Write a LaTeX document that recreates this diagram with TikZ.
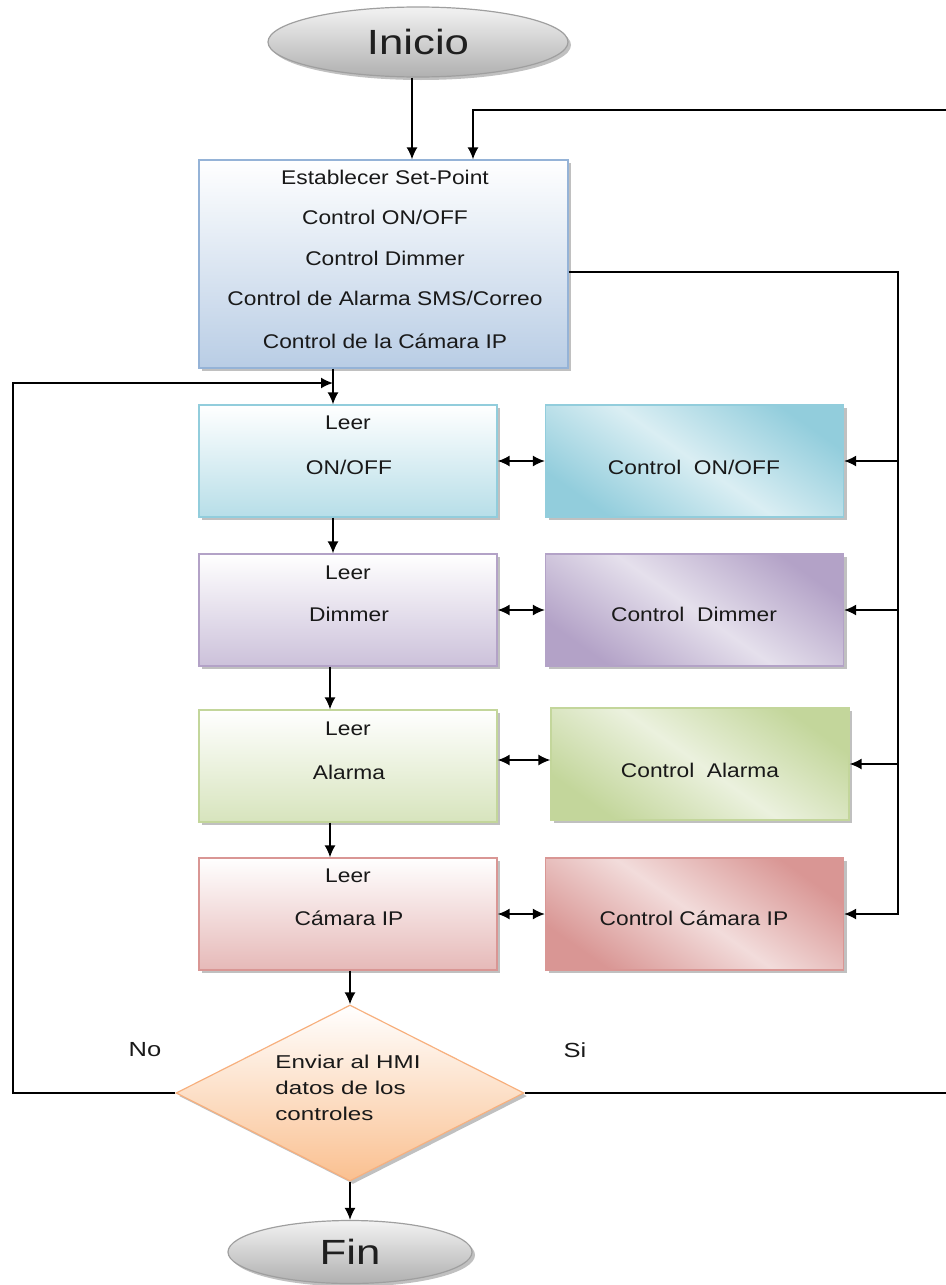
\documentclass[tikz,border=0pt]{standalone}
\usepackage{fontspec}
\setmainfont{Liberation Sans}
\newfontfamily\wa[FakeStretch=1.15]{Liberation Sans}
\newfontfamily\wb[FakeStretch=1.25]{Liberation Sans}
\newfontfamily\wc[FakeStretch=1.3]{Liberation Sans}
\usetikzlibrary{shapes.geometric,shadows,arrows.meta}
\definecolor{blueA}{HTML}{B9CDE5}\definecolor{blueB}{HTML}{95B3D7}
\definecolor{tealA}{HTML}{B7DEE8}\definecolor{tealB}{HTML}{92CDDC}\definecolor{tealL}{HTML}{DAEEF3}
\definecolor{purA}{HTML}{CCC1DA}\definecolor{purB}{HTML}{B3A2C7}\definecolor{purL}{HTML}{E5E0EC}
\definecolor{grnA}{HTML}{D7E4BD}\definecolor{grnB}{HTML}{C3D69B}\definecolor{grnL}{HTML}{EBF1DE}
\definecolor{redA}{HTML}{E6B9B8}\definecolor{redB}{HTML}{D99694}\definecolor{redL}{HTML}{F2DCDB}
\definecolor{peachA}{HTML}{FAC090}\definecolor{peachB}{HTML}{F7B07E}
\begin{document}
\begin{tikzpicture}[x=0.5pt,y=-0.5pt,
  shd/.style={drop shadow={shadow xshift=1.5pt,shadow yshift=-1.5pt,fill=black!45,opacity=0.55}},
  box/.style={shd,draw,line width=0.6pt,minimum width=149pt,minimum height=56pt,inner sep=0pt},
  leerbox/.style={box,draw=#1B,top color=white,bottom color=#1A},
  ctlbox/.style={box,draw=#1B,top color=#1B,bottom color=#1B,middle color=#1L,shading angle=-35},
  txt/.style={font=\wa\fontsize{9.9pt}{11pt}\selectfont,text=black!90,inner sep=0pt},
  bigtxt/.style={font=\wb\fontsize{17.5pt}{20pt}\selectfont,text=black!88},
  oval/.style={ellipse,shd,draw=gray!75,line width=0.6pt,top color=gray!10,bottom color=gray!62,inner sep=0pt},
  ln/.style={line width=0.9pt},
  arr/.style={ln,-{Latex[length=6pt,width=5.5pt]}},
  dbl/.style={ln,{Latex[length=6pt,width=5.5pt]}-{Latex[length=6pt,width=5.5pt]}}]
\useasboundingbox (0,0) rectangle (946,1285);

% terminals
\node[oval,minimum width=150pt,minimum height=35pt,bigtxt] (inicio) at (418,42) {Inicio};
\node[oval,minimum width=122pt,minimum height=31.5pt,bigtxt] (fin) at (350,1252) {Fin};

% set-point box
\node[box,minimum width=184.5pt,minimum height=104pt,draw=blueB,top color=white,bottom color=blueA] (setp) at (383.5,264) {};
\node[txt] (s1) at (385,177) {Establecer Set-Point};
\node[txt] (s2) at (385,217) {Control ON/OFF};
\node[txt] (s3) at (385,258) {Control Dimmer};
\node[txt] (s4) at (385,298) {Control de Alarma SMS/Correo};
\node[txt] (s5) at (385,341) {Control de la Cámara IP};

% leer boxes
\node[leerbox=teal] (leer1) at (348,461) {};
\node[leerbox=pur]  (leer2) at (348,610) {};
\node[leerbox=grn]  (leer3) at (348,766) {};
\node[leerbox=red]  (leer4) at (348,914) {};
\node[txt] (l1a) at (348,423) {Leer};  \node[txt] (l1b) at (349,467) {ON/OFF};
\node[txt] (l2a) at (348,573) {Leer};  \node[txt] (l2b) at (349,614) {Dimmer};
\node[txt] (l3a) at (348,729) {Leer};  \node[txt] (l3b) at (349,772) {Alarma};
\node[txt] (l4a) at (348,876) {Leer};  \node[txt] (l4b) at (349,918) {Cámara IP};

% control boxes
\node[ctlbox=teal] (ctl1) at (694.5,461) {};
\node[ctlbox=pur]  (ctl2) at (694.5,610) {};
\node[ctlbox=grn]  (ctl3) at (700,764) {};
\node[ctlbox=red]  (ctl4) at (694.5,914) {};
\node[txt] (c1t) at (694,467) {Control~~ON/OFF};
\node[txt] (c2t) at (694,614) {Control~~Dimmer};
\node[txt] (c3t) at (700,770) {Control~~Alarma};
\node[txt] (c4t) at (694,918) {Control Cámara IP};

% decision
\node[diamond,shd,draw=peachB,line width=0.6pt,top color=white,bottom color=peachA,minimum width=174pt,minimum height=88pt,inner sep=0pt] (dec) at (350,1093) {};
\node[font=\wc\fontsize{9.3pt}{13pt}\selectfont,text=black!90,align=left,anchor=west,inner sep=0pt] (dect) at (275,1088) {Enviar al HMI\\datos de los\\controles};
\node[txt,font=\wb\fontsize{10.2pt}{11pt}\selectfont] (no) at (145,1050) {No};
\node[txt,font=\wb\fontsize{10.2pt}{11pt}\selectfont] (si) at (575,1050) {Si};

% helper coordinates
\coordinate (fbR) at (946,110);
\coordinate (bus) at (898,272);
\coordinate (va) at (333,0);
\coordinate (vb) at (330,0);
\coordinate (lp) at (13,383);

% connectors
\draw[arr] ([xshift=-3pt]inicio.south) -- ([xshift=-3pt]inicio.south |- setp.north);
\draw[arr] (fbR) -| ([xshift=44.75pt]setp.north);
\draw[arr] ([yshift=-4pt]setp.east) -| (bus |- ctl4.east) -- (ctl4.east);
\draw[arr] (bus |- ctl1.east) -- (ctl1.east);
\draw[arr] (bus |- ctl2.east) -- (ctl2.east);
\draw[arr] (bus |- ctl3.east) -- (ctl3.east);

\draw[arr] (va |- setp.south) -- (va |- leer1.north);
\draw[arr] (va |- leer1.south) -- (va |- leer2.north);
\draw[arr] (vb |- leer2.south) -- (vb |- leer3.north);
\draw[arr] (vb |- leer3.south) -- (vb |- leer4.north);
\draw[arr] (dec.north |- leer4.south) -- (dec.north);
\draw[arr] (dec.south) -- (fin.north);

\draw[dbl] (leer1.east) -- (leer1.east -| ctl1.west);
\draw[dbl] (leer2.east) -- (leer2.east -| ctl2.west);
\draw[dbl] ([yshift=3pt]leer3.east) -- ([yshift=3pt]leer3.east -| ctl3.west);
\draw[dbl] (leer4.east) -- (leer4.east -| ctl4.west);

\draw[arr] (dec.west) -| (lp) -- (va |- lp);
\draw[ln] (dec.east) -- (dec.east -| fbR);
\end{tikzpicture}
\end{document}
